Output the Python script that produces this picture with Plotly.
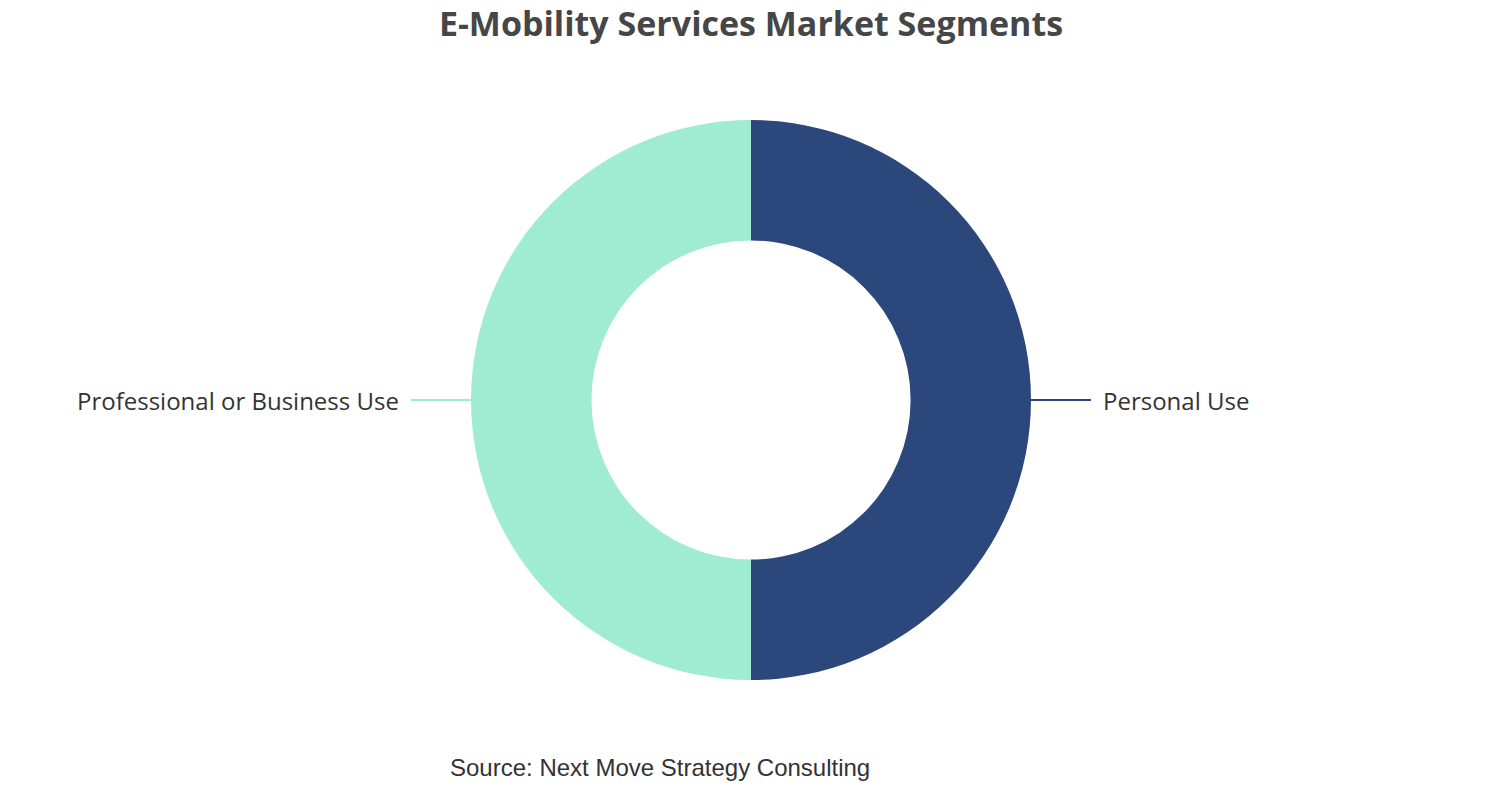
import math
import plotly.graph_objects as go

# data
segments = ["Personal Use", "Professional or Business Use"]
shares = [50, 50]
colors = ["#2b477b", "#a0ecd2"]

W, H = 1502, 800
MT, MB = 120, 120
plot_h = H - MT - MB
radius_px = plot_h / 2
hole = 0.57


def to_px(px):
    return 0.5 + px / W


def to_py(py):
    return 0.5 + py / plot_h


fig = go.Figure()

fig.add_trace(go.Pie(
    labels=segments,
    values=shares,
    hole=hole,
    sort=False,
    direction="clockwise",
    rotation=0,
    marker=dict(colors=colors, line=dict(width=0)),
    textinfo="none",
    hoverinfo="label+percent",
    showlegend=False,
    domain=dict(x=[0, 1], y=[0, 1]),
))

# outside labels with leader lines, placed from each slice's mid angle
total = sum(shares)
cum = 0
shapes = []
annotations = []
for name, v, c in zip(segments, shares, colors):
    mid = 90 - 360 * (cum + v / 2) / total
    cum += v
    a = math.radians(mid)
    x0, y0 = radius_px * math.cos(a), radius_px * math.sin(a)
    x1, y1 = (radius_px + 15) * math.cos(a), (radius_px + 15) * math.sin(a)
    side = 1 if math.cos(a) >= 0 else -1
    x2 = x1 + side * 45
    for (xa, ya, xb, yb) in [(x0, y0, x1, y1), (x1, y1, x2, y1)]:
        shapes.append(dict(type="line", xref="paper", yref="paper",
                           x0=to_px(xa), y0=to_py(ya), x1=to_px(xb), y1=to_py(yb),
                           line=dict(color=c, width=2)))
    annotations.append(dict(
        text=name, xref="paper", yref="paper",
        x=to_px(x2 + side * 10), y=to_py(y1),
        xanchor="left" if side > 0 else "right", yanchor="middle",
        showarrow=False,
        font=dict(family="Open Sans, Noto Sans, sans-serif", size=24, color="#333333"),
    ))

annotations.append(dict(
    text="Source: Next Move Strategy Consulting",
    xref="paper", yref="paper", x=660 / W, y=-(767 - (H - MB)) / plot_h,
    xanchor="center", yanchor="middle", showarrow=False,
    font=dict(family="Liberation Sans, Arial, sans-serif", size=24, color="#333333"),
))

fig.update_layout(
    width=W, height=H,
    title=dict(
        text="<b>E-Mobility Services Market Segments</b>",
        x=0.5, xanchor="center", y=1 - 24 / H, yanchor="middle",
        font=dict(family="Open Sans, Noto Sans, sans-serif", size=34, color="#464646"),
    ),
    margin=dict(l=0, r=0, t=MT, b=MB),
    paper_bgcolor="white",
    plot_bgcolor="white",
    shapes=shapes,
    annotations=annotations,
)

# drop the default body margin so the figure fills the window exactly
fig.write_html("out.html", config={"displayModeBar": False},
               post_script="document.body.style.margin='0';")
